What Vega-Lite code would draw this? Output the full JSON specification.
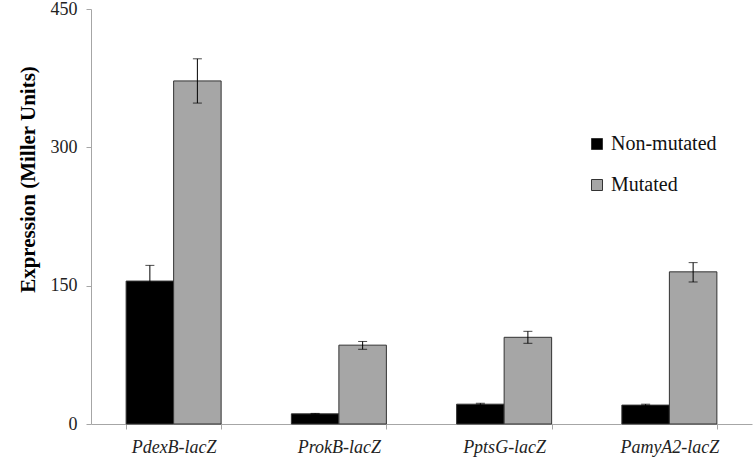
{
  "$schema": "https://vega.github.io/schema/vega-lite/v6.json",
  "autosize": {"type": "none"},
  "width": 661,
  "height": 415,
  "padding": {"left": 91, "top": 9, "right": 3, "bottom": 33},
  "background": "white",
  "config": {
    "view": {"stroke": null},
    "font": "'Liberation Serif', 'Times New Roman', serif",
    "axis": {"grid": false, "domainColor": "#a6a6a6", "tickColor": "#a6a6a6", "labelColor": "#222222", "labelFont": "'Liberation Serif', 'Times New Roman', serif", "titleFont": "'Liberation Serif', 'Times New Roman', serif"},
    "legend": {"labelFont": "'Liberation Serif', 'Times New Roman', serif", "titleFont": "'Liberation Serif', 'Times New Roman', serif"}
  },
  "data": {
    "values": [
      {"promoter": "PdexB-lacZ", "type": "Non-mutated", "value": 155, "lo": 138, "hi": 172},
      {"promoter": "PdexB-lacZ", "type": "Mutated", "value": 372, "lo": 348, "hi": 396},
      {"promoter": "ProkB-lacZ", "type": "Non-mutated", "value": 11, "lo": 10.5, "hi": 11.5},
      {"promoter": "ProkB-lacZ", "type": "Mutated", "value": 85.5, "lo": 81, "hi": 89.5},
      {"promoter": "PptsG-lacZ", "type": "Non-mutated", "value": 21.5, "lo": 20.5, "hi": 22.5},
      {"promoter": "PptsG-lacZ", "type": "Mutated", "value": 94, "lo": 87.5, "hi": 100.5},
      {"promoter": "PamyA2-lacZ", "type": "Non-mutated", "value": 20.5, "lo": 19.5, "hi": 21.5},
      {"promoter": "PamyA2-lacZ", "type": "Mutated", "value": 165, "lo": 154, "hi": 175}
    ]
  },
  "encoding": {
    "x": {
      "field": "promoter", "type": "nominal", "sort": null,
      "scale": {"paddingInner": 0.425, "paddingOuter": 0.2125},
      "axis": {"title": null, "labelAngle": 0, "labelFontStyle": "italic", "labelFontSize": 18, "labelPadding": 9, "tickBand": "extent", "tickSize": 5}
    },
    "xOffset": {"field": "type", "type": "nominal", "sort": ["Non-mutated", "Mutated"], "scale": {"paddingInner": 0, "paddingOuter": 0}}
  },
  "layer": [
    {
      "mark": {"type": "bar", "stroke": "#333333", "strokeWidth": 1},
      "encoding": {
        "y": {
          "field": "value", "type": "quantitative",
          "scale": {"domain": [0, 450], "nice": false},
          "axis": {"values": [0, 150, 300, 450], "title": "Expression (Miller Units)", "titleFontSize": 21, "titleFontWeight": "bold", "titleColor": "black", "titlePadding": 12, "titleY": 170, "labelFontSize": 18, "labelPadding": 9, "tickSize": 5}
        },
        "color": {
          "field": "type", "type": "nominal", "sort": ["Non-mutated", "Mutated"],
          "scale": {"domain": ["Non-mutated", "Mutated"], "range": ["#000000", "#a6a6a6"]},
          "legend": {"title": null, "orient": "none", "legendX": 496, "legendY": 125, "symbolType": "square", "symbolSize": 121, "symbolStrokeColor": "#333333", "symbolStrokeWidth": 1, "labelFontSize": 20, "labelColor": "#111111", "rowPadding": 21, "labelOffset": 4}
        }
      }
    },
    {
      "mark": {"type": "rule", "color": "black", "strokeWidth": 1},
      "encoding": {"y": {"field": "lo", "type": "quantitative"}, "y2": {"field": "hi"}}
    },
    {
      "mark": {"type": "tick", "color": "black", "size": 9, "thickness": 1},
      "encoding": {"y": {"field": "hi", "type": "quantitative"}}
    },
    {
      "mark": {"type": "tick", "color": "black", "size": 9, "thickness": 1},
      "encoding": {"y": {"field": "lo", "type": "quantitative"}}
    }
  ]
}
